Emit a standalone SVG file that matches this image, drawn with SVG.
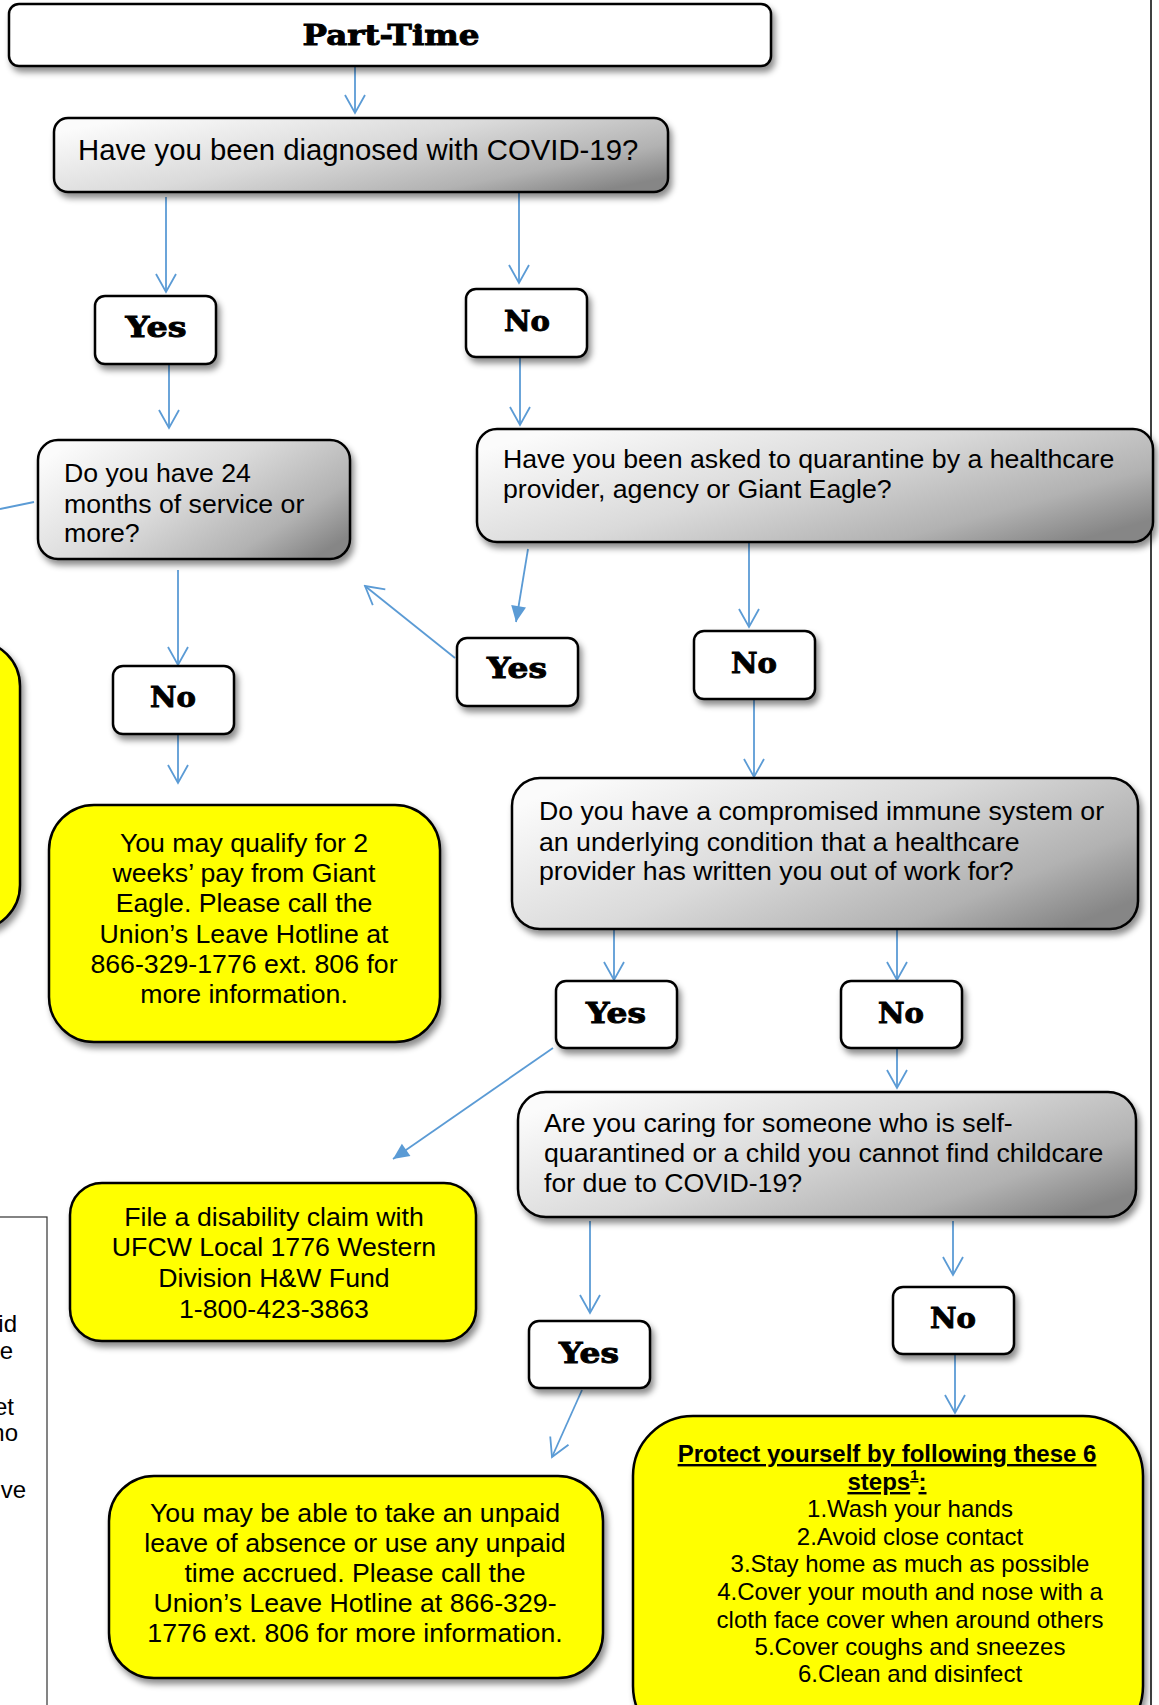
<svg xmlns="http://www.w3.org/2000/svg" width="1159" height="1705" viewBox="0 0 1159 1705">
<defs>
<style>
.box{stroke:#000;stroke-width:2.5;filter:url(#sh)}
.white{fill:#fff}
.gray{fill:url(#gg)}
.yel{fill:#ffff00}
.t{font-family:"Liberation Sans",Arial,sans-serif;font-size:26.7px;fill:#000}
.tc{text-anchor:middle}
.yn{font-family:"DejaVu Serif","Liberation Serif",serif;font-weight:bold;font-size:27px;text-anchor:middle;fill:#000;stroke:#000;stroke-width:0.9}
.p{font-family:"Liberation Sans",Arial,sans-serif;font-size:24px;fill:#000;text-anchor:middle}
.c{stroke:#5b9bd5;stroke-width:1.8;fill:none}
.o{marker-end:url(#ao)}
.f{marker-end:url(#af)}
</style>
<linearGradient id="gg" x1="0" y1="0.2" x2="1" y2="0.8">
<stop offset="0" stop-color="#fbfbfb"/>
<stop offset="0.45" stop-color="#dadada"/>
<stop offset="0.8" stop-color="#b2b2b2"/>
<stop offset="1" stop-color="#868686"/>
</linearGradient>
<filter id="sh" x="-10%" y="-10%" width="125%" height="135%">
<feDropShadow dx="3" dy="5" stdDeviation="3" flood-color="#000" flood-opacity="0.45"/>
</filter>
<marker id="ao" markerUnits="userSpaceOnUse" viewBox="-20 -12 22 24" refX="0" refY="0" markerWidth="22" markerHeight="24" orient="auto">
<path d="M-18,-10 L0,0 L-18,10" fill="none" stroke="#5b9bd5" stroke-width="1.8"/>
</marker>
<marker id="af" markerUnits="userSpaceOnUse" viewBox="-18 -10 20 20" refX="0" refY="0" markerWidth="20" markerHeight="20" orient="auto">
<path d="M-16,-7.5 L0,0 L-16,7.5 Z" fill="#5b9bd5"/>
</marker>
</defs>

<line x1="1151" y1="0" x2="1151" y2="1705" stroke="#000" stroke-width="1.5"/>

<g id="connectors">
<line class="c o" x1="355" y1="66" x2="355" y2="113"/>
<line class="c o" x1="166" y1="197" x2="166" y2="292"/>
<line class="c o" x1="519" y1="192" x2="519" y2="283"/>
<line class="c o" x1="169" y1="364" x2="169" y2="428"/>
<line class="c o" x1="520" y1="357" x2="520" y2="425"/>
<line class="c" x1="0" y1="509" x2="34" y2="502"/>
<line class="c f" x1="528" y1="549" x2="516" y2="622"/>
<line class="c o" x1="455" y1="658" x2="365" y2="586"/>
<line class="c o" x1="749" y1="542" x2="749" y2="627"/>
<line class="c o" x1="754" y1="699" x2="754" y2="777"/>
<line class="c o" x1="178" y1="570" x2="178" y2="665"/>
<line class="c o" x1="178" y1="734" x2="178" y2="783"/>
<line class="c o" x1="614" y1="929" x2="614" y2="980"/>
<line class="c o" x1="897" y1="929" x2="897" y2="980"/>
<line class="c f" x1="553" y1="1048" x2="393" y2="1159"/>
<line class="c o" x1="897" y1="1048" x2="897" y2="1088"/>
<line class="c o" x1="590" y1="1221" x2="590" y2="1313"/>
<line class="c o" x1="953" y1="1221" x2="953" y2="1275"/>
<line class="c o" x1="955" y1="1354" x2="955" y2="1413"/>
<line class="c o" x1="582" y1="1390" x2="552" y2="1457"/>
</g>

<g id="part-time">
<rect class="box white" x="9" y="4" width="762" height="62" rx="10"/>
<text class="yn" x="391" y="45" textLength="177" lengthAdjust="spacingAndGlyphs">Part-Time</text>
</g>

<g id="q-covid">
<rect class="box gray" x="54" y="118" width="614" height="74" rx="14"/>
<text class="t" x="78" y="160" style="font-size:29.3px">Have you been diagnosed with COVID-19?</text>
</g>

<g id="yes1">
<rect class="box white" x="95" y="296" width="121" height="68" rx="10"/>
<text class="yn" x="156" y="337" textLength="61" lengthAdjust="spacingAndGlyphs">Yes</text>
</g>

<g id="no1">
<rect class="box white" x="466" y="289" width="121" height="68" rx="10"/>
<text class="yn" x="527" y="331" textLength="46" lengthAdjust="spacingAndGlyphs">No</text>
</g>

<g id="q-24months">
<rect class="box gray" x="38" y="440" width="312" height="119" rx="20"/>
<text class="t" x="64" y="482">Do you have 24</text>
<text class="t" x="64" y="513">months of service or</text>
<text class="t" x="64" y="542">more?</text>
</g>

<g id="q-quarantine">
<rect class="box gray" x="477" y="429" width="676" height="113" rx="20"/>
<text class="t" x="503" y="468">Have you been asked to quarantine by a healthcare</text>
<text class="t" x="503" y="498">provider, agency or Giant Eagle?</text>
</g>

<g id="yes2">
<rect class="box white" x="457" y="638" width="121" height="68" rx="10"/>
<text class="yn" x="517" y="678" textLength="60" lengthAdjust="spacingAndGlyphs">Yes</text>
</g>

<g id="no2">
<rect class="box white" x="694" y="631" width="121" height="68" rx="10"/>
<text class="yn" x="754" y="673" textLength="46" lengthAdjust="spacingAndGlyphs">No</text>
</g>

<g id="no3">
<rect class="box white" x="113" y="666" width="121" height="68" rx="10"/>
<text class="yn" x="173" y="707" textLength="46" lengthAdjust="spacingAndGlyphs">No</text>
</g>

<g id="left-yellow">
<rect class="box yel" x="-300" y="641" width="320" height="289" rx="45"/>
</g>

<g id="a-2weeks">
<rect class="box yel" x="49" y="805" width="391" height="237" rx="45"/>
<text class="t tc" x="244" y="852">You may qualify for 2</text>
<text class="t tc" x="244" y="882">weeks’ pay from Giant</text>
<text class="t tc" x="244" y="912">Eagle. Please call the</text>
<text class="t tc" x="244" y="943">Union’s Leave Hotline at</text>
<text class="t tc" x="244" y="973">866-329-1776 ext. 806 for</text>
<text class="t tc" x="244" y="1003">more information.</text>
</g>

<g id="q-immune">
<rect class="box gray" x="512" y="778" width="626" height="151" rx="28"/>
<text class="t" x="539" y="820">Do you have a compromised immune system or</text>
<text class="t" x="539" y="851">an underlying condition that a healthcare</text>
<text class="t" x="539" y="880">provider has written you out of work for?</text>
</g>

<g id="yes4">
<rect class="box white" x="556" y="981" width="121" height="67" rx="10"/>
<text class="yn" x="616" y="1023" textLength="60" lengthAdjust="spacingAndGlyphs">Yes</text>
</g>

<g id="no4">
<rect class="box white" x="841" y="981" width="121" height="67" rx="10"/>
<text class="yn" x="901" y="1023" textLength="46" lengthAdjust="spacingAndGlyphs">No</text>
</g>

<g id="q-caring">
<rect class="box gray" x="518" y="1092" width="618" height="125" rx="28"/>
<text class="t" x="544" y="1132">Are you caring for someone who is self-</text>
<text class="t" x="544" y="1162">quarantined or a child you cannot find childcare</text>
<text class="t" x="544" y="1192">for due to COVID-19?</text>
</g>

<g id="a-disability">
<rect class="box yel" x="70" y="1183" width="406" height="158" rx="32"/>
<text class="t tc" x="274" y="1226">File a disability claim with</text>
<text class="t tc" x="274" y="1256">UFCW Local 1776 Western</text>
<text class="t tc" x="274" y="1287">Division H&amp;W Fund</text>
<text class="t tc" x="274" y="1318">1-800-423-3863</text>
</g>

<g id="left-panel">
<rect x="-10" y="1217" width="57" height="500" fill="#fff" stroke="#333" stroke-width="1.2"/>
<text class="t" x="17" y="1332" style="font-size:24px;text-anchor:end">id</text>
<text class="t" x="13" y="1359" style="font-size:24px;text-anchor:end">e</text>
<text class="t" x="14" y="1415" style="font-size:24px;text-anchor:end">et</text>
<text class="t" x="18" y="1441" style="font-size:24px;text-anchor:end">no</text>
<text class="t" x="26" y="1498" style="font-size:24px;text-anchor:end">ve</text>
</g>

<g id="yes5">
<rect class="box white" x="529" y="1321" width="121" height="67" rx="10"/>
<text class="yn" x="589" y="1363" textLength="60" lengthAdjust="spacingAndGlyphs">Yes</text>
</g>

<g id="no5">
<rect class="box white" x="893" y="1287" width="121" height="67" rx="10"/>
<text class="yn" x="953" y="1328" textLength="46" lengthAdjust="spacingAndGlyphs">No</text>
</g>

<g id="a-unpaid">
<rect class="box yel" x="109" y="1476" width="494" height="202" rx="45"/>
<text class="t tc" x="355" y="1522">You may be able to take an unpaid</text>
<text class="t tc" x="355" y="1552">leave of absence or use any unpaid</text>
<text class="t tc" x="355" y="1582">time accrued. Please call the</text>
<text class="t tc" x="355" y="1612">Union’s Leave Hotline at 866-329-</text>
<text class="t tc" x="355" y="1642">1776 ext. 806 for more information.</text>
</g>

<g id="a-protect">
<rect class="box yel" x="633" y="1416" width="510" height="330" rx="60"/>
<text class="p" x="887" y="1462" style="font-weight:bold;text-decoration:underline">Protect yourself by following these 6</text>
<text class="p" x="887" y="1490" style="font-weight:bold;text-decoration:underline">steps<tspan font-size="15" dy="-10">1</tspan><tspan dy="10">:</tspan></text>
<text class="p" x="910" y="1517">1.Wash your hands</text>
<text class="p" x="910" y="1545">2.Avoid close contact</text>
<text class="p" x="910" y="1572">3.Stay home as much as possible</text>
<text class="p" x="910" y="1600">4.Cover your mouth and nose with a</text>
<text class="p" x="910" y="1628">cloth face cover when around others</text>
<text class="p" x="910" y="1655">5.Cover coughs and sneezes</text>
<text class="p" x="910" y="1682">6.Clean and disinfect</text>
</g>
</svg>
